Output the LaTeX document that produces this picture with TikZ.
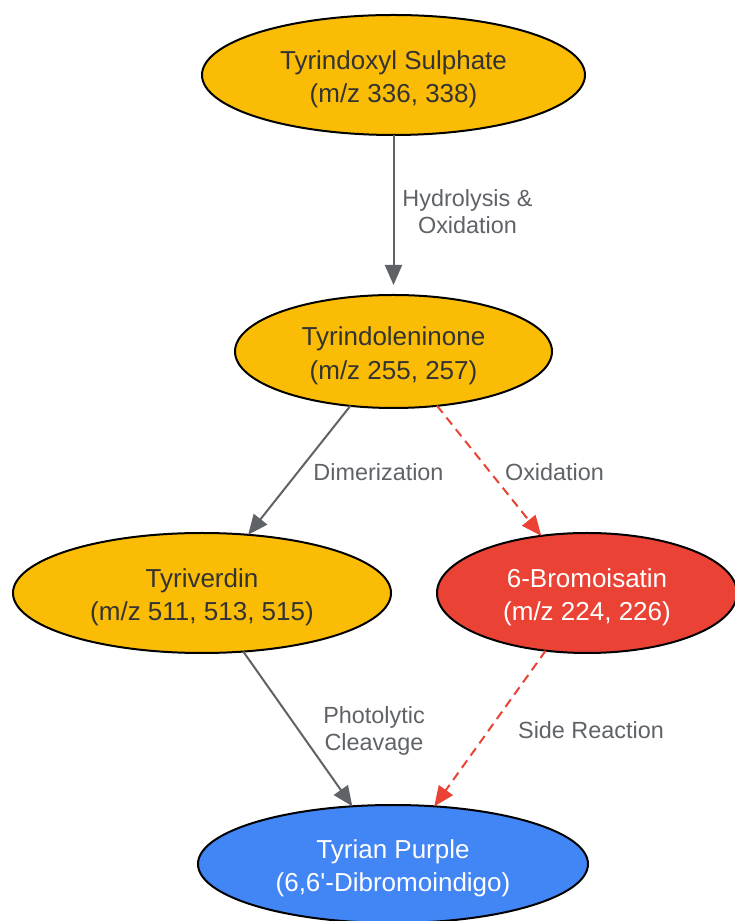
\documentclass[tikz,border=0pt]{standalone}
\usepackage{fontspec}
\setmainfont{Liberation Sans}
\usetikzlibrary{shapes.geometric,arrows.meta}

\begin{document}
\begin{tikzpicture}[x=1pt,y=1pt,
  stage/.style={ellipse,draw=black,line width=2pt,inner sep=0pt,outer sep=0pt,
    align=center,font=\fontsize{26}{33.5}\selectfont,
    text height=61pt,text depth=5.5pt},
  rxlabel/.style={text=labelColor,align=center,inner sep=0pt,
    font=\fontsize{23.4}{27}\selectfont},
  rxarrow/.style={draw=arrowColor,line width=2pt,
    -{Triangle[length=20pt,width=17pt]}},
  sidearrow/.style={draw=sideColor,line width=2pt,dash pattern=on 9pt off 6pt,
    -{Triangle[length=20pt,width=17pt]}}]
\definecolor{fillColor}{RGB}{255,255,255}
\definecolor{yellowFill}{RGB}{251,188,5}
\definecolor{redFill}{RGB}{234,67,53}
\definecolor{blueFill}{RGB}{66,133,244}
\definecolor{darkText}{RGB}{51,51,51}
\definecolor{labelColor}{RGB}{95,99,104}
\definecolor{arrowColor}{RGB}{95,99,104}
\definecolor{sideColor}{RGB}{234,67,53}
\path[use as bounding box,fill=fillColor] (0,0) rectangle (734,921);

% stages of the pathway
\node[stage,fill=yellowFill,text=darkText,minimum width=383,minimum height=120]
  (sulphate) at (393.5,846) {Tyrindoxyl Sulphate\\(m/z 336, 338)};
\node[stage,fill=yellowFill,text=darkText,minimum width=317,minimum height=113]
  (indoleninone) at (393.5,569.5) {Tyrindoleninone\\(m/z 255, 257)};
\node[stage,fill=yellowFill,text=darkText,minimum width=378,minimum height=120]
  (tyriverdin) at (202,328) {Tyriverdin\\(m/z 511, 513, 515)};
\node[stage,fill=redFill,text=white,minimum width=300,minimum height=120]
  (bromoisatin) at (587,328) {6-Bromoisatin\\(m/z 224, 226)};
\node[stage,fill=blueFill,text=white,minimum width=390,minimum height=118]
  (purple) at (393,57) {Tyrian Purple\\(6,6\textquotesingle-Dibromoindigo)};

% reactions
\draw[rxarrow,shorten >=10pt] (sulphate) -- (indoleninone);
\draw[rxarrow] (indoleninone) -- (tyriverdin);
\draw[sidearrow] (indoleninone) -- (bromoisatin);
\draw[rxarrow] (tyriverdin) -- (purple);
\draw[sidearrow] (bromoisatin) -- (purple);

\node[rxlabel] (hydrolysis) at (467.5,709) {Hydrolysis \&\\Oxidation};
\node[rxlabel] (dimerization) at (378.5,449) {Dimerization};
\node[rxlabel] (oxidation) at (554.5,449) {Oxidation};
\node[rxlabel] (photolytic) at (374,190) {Photolytic\\Cleavage};
\node[rxlabel] (sidereaction) at (591,191) {Side Reaction};
\end{tikzpicture}
\end{document}
